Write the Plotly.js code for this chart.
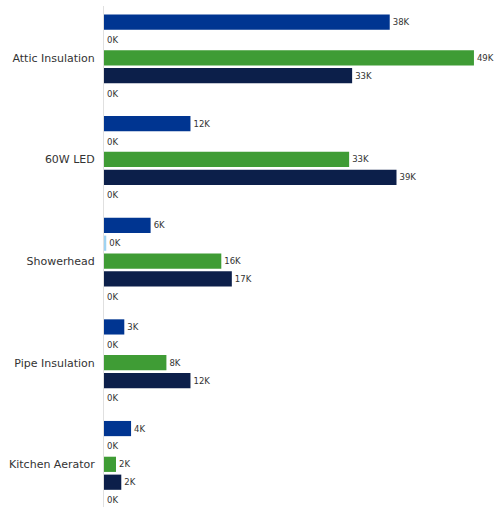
<!DOCTYPE html>
<html><head><meta charset="utf-8">
<script src="https://cdn.plot.ly/plotly-3.0.1.min.js"></script>
<style>html,body{margin:0;padding:0;background:#fff}#chart{width:495px;height:507px}</style>
</head><body><div id="chart"></div>
<script>
var categories = ["Attic Insulation", "60W LED", "Showerhead", "Pipe Insulation", "Kitchen Aerator"];
var seriesA = [38, 11.5, 6.2, 2.7, 3.6];   // blue
var seriesB = [0, 0, 0.3, 0, 0];           // light blue
var seriesC = [49.2, 32.6, 15.6, 8.3, 1.6];// green
var seriesD = [33, 38.9, 17, 11.5, 2.3];   // navy
var seriesE = [0, 0, 0, 0, 0];             // (empty)
var colors = ["#003591", "#9ed3f2", "#3f9c35", "#0c1f4a", "#7f7f7f"];
var all = [seriesA, seriesB, seriesC, seriesD, seriesE];
var traces = all.map(function(vals, i){
  return {
    type: 'bar', orientation: 'h', y: categories, x: vals,
    marker: {color: colors[i], line: {width: 0}},
    text: vals.map(function(v){ return Math.round(v) + 'K'; }),
    textposition: 'outside', cliponaxis: false,
    textfont: {family: 'DejaVu Sans', size: 8.5, color: '#333333'},
    hoverinfo: 'none'
  };
});
var layout = {
  width: 495, height: 507,
  margin: {l: 104, r: 0, t: 6, b: 0},
  barmode: 'group', bargap: 0.12, bargroupgap: 0.15,
  showlegend: false,
  paper_bgcolor: '#fff', plot_bgcolor: '#fff',
  xaxis: {range: [0, 52], showticklabels: false, showgrid: false, zeroline: false, showline: false, ticks: ''},
  yaxis: {type: 'category', range: [4.42, -0.51], showline: true, linecolor: '#e0e0e0', linewidth: 1,
          ticks: '', showgrid: false, tickfont: {family: 'DejaVu Sans', size: 11, color: '#333333'}, ticklabelstandoff: 6},
  font: {family: 'DejaVu Sans'}
};
Plotly.newPlot('chart', traces, layout, {displayModeBar: false, staticPlot: true});
</script></body></html>
